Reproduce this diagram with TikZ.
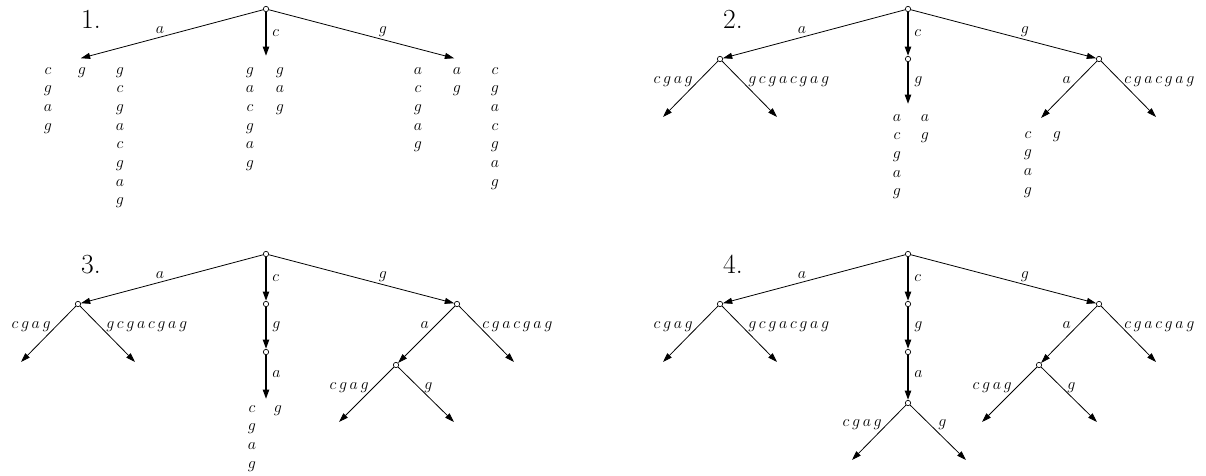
\documentclass[tikz,border=0pt]{standalone}
\usetikzlibrary{arrows.meta}
\newcommand\lettercol[4]{%
  \foreach \ch [count=\i] in {#4} {
    \node[lt, anchor=base] (#1-\i) at ({#2}, {#3+(\i-1)*18.7}) {$\ch$};
  }%
}
\tikzset{
  vx/.style={circle, draw, fill=white, inner sep=0pt, minimum size=4pt, line width=0.5pt},
  hid/.style={circle, inner sep=0pt, minimum size=4pt},
  edge/.style={-{Triangle[length=7pt,width=4.5pt]}, line width=0.6pt},
  thickedge/.style={-{Triangle[length=7pt,width=4.5pt]}, line width=1.5pt},
  lt/.style={inner sep=0pt, font=\fontsize{13}{15}\selectfont},
  lbl/.style={lt, anchor=base},
  lblw/.style={lt, anchor=base west},
  lble/.style={lt, anchor=base east},
  ttl/.style={inner sep=0pt, font=\huge, anchor=base},
}
\begin{document}
\begin{tikzpicture}[x=0.75pt,y=-0.75pt]
\useasboundingbox (0,0) rectangle (1206,475);

% ---------------- Panel 1 ----------------
\begin{scope}[shift={(266,9)}]
  \node[vx]  (R1) at (0,0) {};
  \node[hid] (A1) at (-188,50) {};
  \node[hid] (C1) at (0,50) {};
  \node[hid] (G1) at (191,50) {};
  \draw[edge] (R1) -- (A1);
  \draw[thickedge] (R1) -- (C1);
  \draw[edge] (R1) -- (G1);
  \node[lbl]  (la1) at (-106,24) {$a$};
  \node[lblw] (lc1) at (6,27) {$c$};
  \node[lbl]  (lg1) at (117,24) {$g$};
  \node[ttl]  (T1) at (-175,19) {1.};
  \lettercol{p1a}{-218}{65}{c,g,a,g}
  \lettercol{p1b}{-184}{65}{g}
  \lettercol{p1c}{-146}{65}{g,c,g,a,c,g,a,g}
  \lettercol{p1d}{-16}{65}{g,a,c,g,a,g}
  \lettercol{p1e}{14}{65}{g,a,g}
  \lettercol{p1f}{152}{65}{a,c,g,a,g}
  \lettercol{p1g}{191}{65}{a,g}
  \lettercol{p1h}{229}{65}{c,g,a,c,g,a,g}
\end{scope}

% ---------------- Panel 2 ----------------
\begin{scope}[shift={(908,9)}]
  \node[vx]  (R2) at (0,0) {};
  \node[vx]  (A2) at (-188,50) {};
  \node[vx]  (C2) at (0,50) {};
  \node[hid] (CG2) at (0,98) {};
  \node[vx]  (G2) at (191,50) {};
  \node[hid] (GA2) at (131,111) {};
  \coordinate (AL2) at (-245,108);
  \coordinate (AR2) at (-131,108);
  \coordinate (GR2) at (248,108);
  \draw[edge] (R2) -- (A2);
  \draw[thickedge] (R2) -- (C2);
  \draw[thickedge] (C2) -- (CG2);
  \draw[edge] (R2) -- (G2);
  \draw[edge] (A2) -- (AL2);
  \draw[edge] (A2) -- (AR2);
  \draw[edge] (G2) -- (GA2);
  \draw[edge] (G2) -- (GR2);
  \node[lbl]  (la2) at (-106,24) {$a$};
  \node[lblw] (lc2) at (6,27) {$c$};
  \node[lbl]  (lg2) at (117,24) {$g$};
  \node[lblw] (lcg2) at (6,74) {$g$};
  \node[lble] (lal2) at (-215,74) {$c\,g\,a\,g$};
  \node[lblw] (lar2) at (-160,74) {$g\,c\,g\,a\,c\,g\,a\,g$};
  \node[lble] (lga2) at (163,74) {$a$};
  \node[lblw] (lgr2) at (216,74) {$c\,g\,a\,c\,g\,a\,g$};
  \node[ttl]  (T2) at (-175,19) {2.};
  \lettercol{p2a}{-11}{112}{a,c,g,a,g}
  \lettercol{p2b}{17}{112}{a,g}
  \lettercol{p2c}{120}{129}{c,g,a,g}
  \lettercol{p2d}{149}{129}{g}
\end{scope}

% ---------------- Panel 3 ----------------
\begin{scope}[shift={(266,254)}]
  \node[vx]  (R3) at (0,0) {};
  \node[vx]  (A3) at (-188,50) {};
  \node[vx]  (C3) at (0,50) {};
  \node[vx]  (CG3) at (0,98) {};
  \node[hid] (CGA3) at (0,148) {};
  \node[vx]  (G3) at (191,50) {};
  \node[vx]  (GA3) at (130,111) {};
  \coordinate (AL3) at (-245,108);
  \coordinate (AR3) at (-131,108);
  \coordinate (GR3) at (248,108);
  \coordinate (GAL3) at (73,168);
  \coordinate (GAR3) at (188,168);
  \draw[edge] (R3) -- (A3);
  \draw[thickedge] (R3) -- (C3);
  \draw[thickedge] (C3) -- (CG3);
  \draw[thickedge] (CG3) -- (CGA3);
  \draw[edge] (R3) -- (G3);
  \draw[edge] (A3) -- (AL3);
  \draw[edge] (A3) -- (AR3);
  \draw[edge] (G3) -- (GA3);
  \draw[edge] (G3) -- (GR3);
  \draw[edge] (GA3) -- (GAL3);
  \draw[edge] (GA3) -- (GAR3);
  \node[lbl]  (la3) at (-106,24) {$a$};
  \node[lblw] (lc3) at (6,27) {$c$};
  \node[lbl]  (lg3) at (117,24) {$g$};
  \node[lblw] (lcg3) at (6,74) {$g$};
  \node[lblw] (lcga3) at (6,123) {$a$};
  \node[lble] (lal3) at (-215,74) {$c\,g\,a\,g$};
  \node[lblw] (lar3) at (-160,74) {$g\,c\,g\,a\,c\,g\,a\,g$};
  \node[lble] (lga3) at (163,74) {$a$};
  \node[lblw] (lgr3) at (216,74) {$c\,g\,a\,c\,g\,a\,g$};
  \node[lble] (lgal3) at (103,135) {$c\,g\,a\,g$};
  \node[lblw] (lgar3) at (158,135) {$g$};
  \node[ttl]  (T3) at (-175,19) {3.};
  \lettercol{p3a}{-14}{158}{c,g,a,g}
  \lettercol{p3b}{12}{158}{g}
\end{scope}

% ---------------- Panel 4 ----------------
\begin{scope}[shift={(908,254)}]
  \node[vx]  (R4) at (0,0) {};
  \node[vx]  (A4) at (-188,50) {};
  \node[vx]  (C4) at (0,50) {};
  \node[vx]  (CG4) at (0,98) {};
  \node[vx]  (CGA4) at (0,149) {};
  \node[vx]  (G4) at (191,50) {};
  \node[vx]  (GA4) at (131,111) {};
  \coordinate (AL4) at (-245,108);
  \coordinate (AR4) at (-131,108);
  \coordinate (GR4) at (248,108);
  \coordinate (GAL4) at (74,168);
  \coordinate (GAR4) at (189,168);
  \coordinate (CL4) at (-56,206);
  \coordinate (CR4) at (58,206);
  \draw[edge] (R4) -- (A4);
  \draw[thickedge] (R4) -- (C4);
  \draw[thickedge] (C4) -- (CG4);
  \draw[thickedge] (CG4) -- (CGA4);
  \draw[edge] (R4) -- (G4);
  \draw[edge] (A4) -- (AL4);
  \draw[edge] (A4) -- (AR4);
  \draw[edge] (G4) -- (GA4);
  \draw[edge] (G4) -- (GR4);
  \draw[edge] (GA4) -- (GAL4);
  \draw[edge] (GA4) -- (GAR4);
  \draw[edge] (CGA4) -- (CL4);
  \draw[edge] (CGA4) -- (CR4);
  \node[lbl]  (la4) at (-106,24) {$a$};
  \node[lblw] (lc4) at (6,27) {$c$};
  \node[lbl]  (lg4) at (117,24) {$g$};
  \node[lblw] (lcg4) at (6,74) {$g$};
  \node[lblw] (lcga4) at (6,123) {$a$};
  \node[lble] (lal4) at (-215,74) {$c\,g\,a\,g$};
  \node[lblw] (lar4) at (-160,74) {$g\,c\,g\,a\,c\,g\,a\,g$};
  \node[lble] (lga4) at (163,74) {$a$};
  \node[lblw] (lgr4) at (216,74) {$c\,g\,a\,c\,g\,a\,g$};
  \node[lble] (lgal4) at (104,135) {$c\,g\,a\,g$};
  \node[lblw] (lgar4) at (159,135) {$g$};
  \node[lble] (lcl4) at (-26,172) {$c\,g\,a\,g$};
  \node[lblw] (lcr4) at (30,172) {$g$};
  \node[ttl]  (T4) at (-175,19) {4.};
\end{scope}
\end{tikzpicture}
\end{document}
